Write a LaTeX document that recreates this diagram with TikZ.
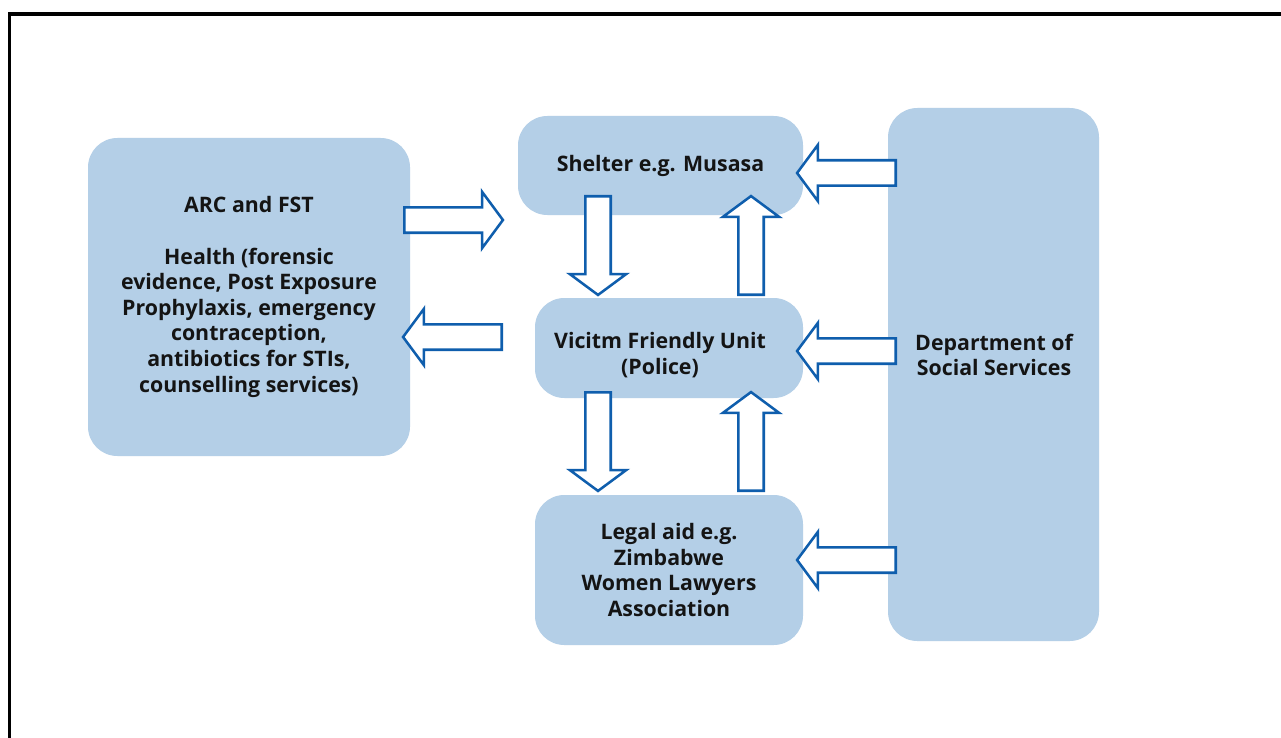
\documentclass[tikz,border=0pt]{standalone}
\usepackage{fontspec}
\setmainfont{Open Sans}
\usetikzlibrary{shapes.arrows}

\definecolor{boxblue}{HTML}{B4CFE7}
\definecolor{arrowblue}{HTML}{0F5EAD}

\tikzset{
  box/.style={fill=boxblue, rounded corners=22pt, align=center, inner sep=0pt,
    font=\bfseries\fontsize{16}{19.2}\selectfont, text=black!92},
  boxtext/.style={align=center, font=\bfseries\fontsize{16}{19.2}\selectfont, text=black!92},
  blockarrow/.style={single arrow, draw=arrowblue, fill=white, line width=1.9pt,
    minimum height=74pt, inner sep=8.6pt, single arrow head extend=11.6pt,
    single arrow tip angle=107, anchor=tail},
}

\begin{document}
\begin{tikzpicture}[x=0.75pt, y=-0.75pt]
\clip (0,0) rectangle (1281,738);
\fill[white] (0,0) rectangle (1281,738);
% frame, only top and left edge on the page
\draw[line width=2.3pt] (9.5,760) -- (9.5,14) -- (1300,14);

% boxes
\node[box, minimum width=241.5pt, minimum height=238.5pt] (arc) at (249,297)
  {ARC and FST\\[19.2pt]Health (forensic\\evidence, Post Exposure\\Prophylaxis, emergency\\contraception,\\antibiotics for STIs,\\counselling services)};
\node[box, minimum width=213.75pt, minimum height=74.25pt] (shelter) at (660.5,165.5) {Shelter e.g. Musasa};
\node[box, minimum width=201pt, minimum height=75pt] (vfu) at (669,348) {};
\node[boxtext] (vfutext) at (660,355) {Vicitm Friendly Unit\\(Police)};
\node[box, minimum width=201pt, minimum height=112.5pt] (legal) at (669,570) {Legal aid e.g.\\Zimbabwe\\Women Lawyers\\Association};
\node[box, minimum width=158.25pt, minimum height=399.75pt] (dept) at (993.5,374.5) {};
\node[boxtext] (depttext) at (994,355) {Department of\\Social Services};

% block arrows, placed by their tails
\node[blockarrow] (arcto) at (403,220) {};
\node[blockarrow, rotate=180] (toarc) at (503,337) {};
\node[blockarrow, rotate=-90] (sheldown) at (598,195) {};
\node[blockarrow, rotate=90] (shelup) at (751,296) {};
\node[blockarrow, rotate=-90] (vfudown) at (598,391) {};
\node[blockarrow, rotate=90] (vfuup) at (751,492) {};
\node[blockarrow, rotate=180] (deptshel) at (897,173) {};
\node[blockarrow, rotate=180] (deptvfu) at (897,351) {};
\node[blockarrow, rotate=180] (deptlegal) at (897,560) {};
\end{tikzpicture}
\end{document}
